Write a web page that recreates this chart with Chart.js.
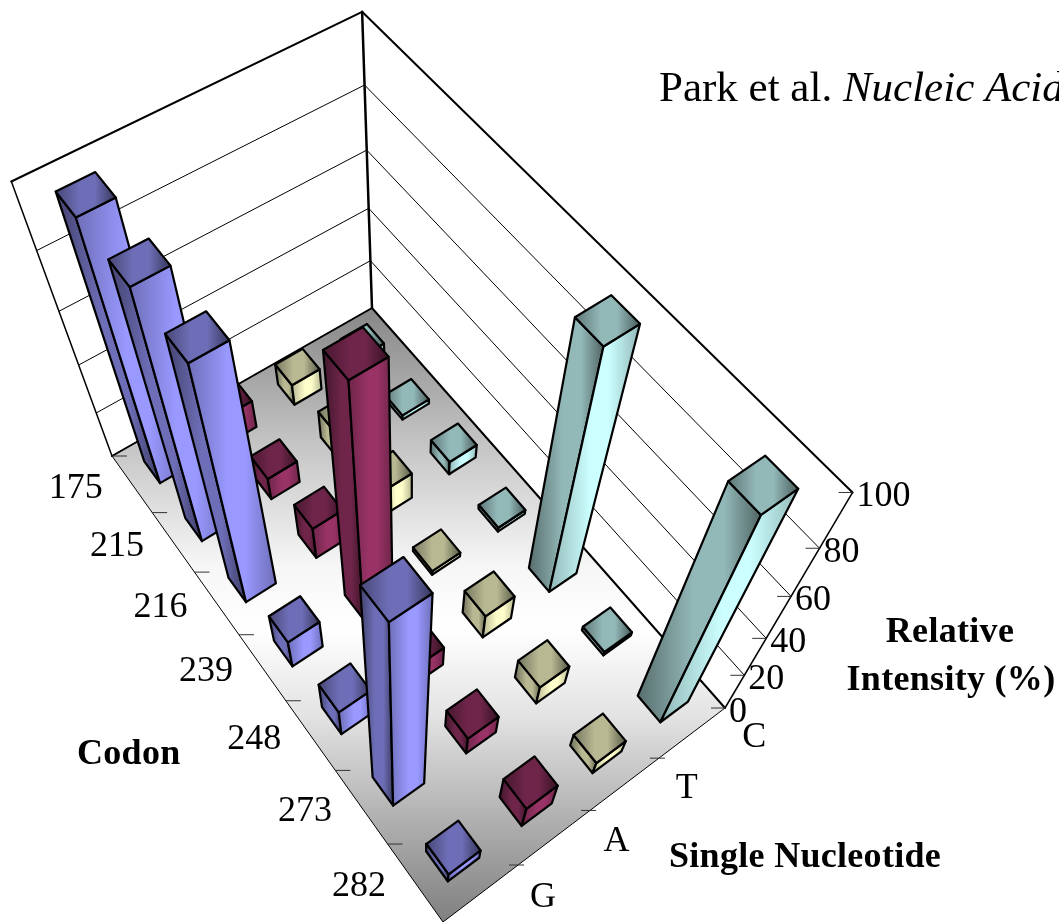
<!DOCTYPE html>
<html>
<head>
<meta charset="utf-8">
<style>html,body{margin:0;padding:0;background:#fff;overflow:hidden}canvas{display:block}</style>
<script src="https://cdn.jsdelivr.net/npm/chart.js@4/dist/chart.umd.min.js"></script>
</head>
<body>
<canvas id="chart" width="1059" height="922"></canvas>
<script>
const codons = ['175', '215', '216', '239', '248', '273', '282'];
const nucleotides = ['G', 'A', 'T', 'C'];
const intensityTicks = [0, 20, 40, 60, 80, 100];
const valuesG = [99, 99, 98.5, 14, 14, 98.5, 6];
const valuesA = [12, 10, 15, 100, 10, 10, 13];
const valuesT = [9, 12, 12, 2, 12, 10, 7];
const valuesC = [4, 2, 6, 2, 100, 2, 98.5];

const W = 1059, H = 922;
const ctx = document.getElementById('chart').getContext('2d');

// camera: where the box corners land on the page
const floorL = [112, 456], floorB = [372, 308], floorR = [725, 708], floorF = [443, 922];
const topL = [12, 183], topB = [362, 10], topR = [852, 493];

function makeCamera() {
  const [x0, y0] = floorL, [x1, y1] = floorF, [x2, y2] = floorR, [x3, y3] = floorB;
  const dx1 = x1 - x2, dx2 = x3 - x2, sx = x0 - x1 + x2 - x3;
  const dy1 = y1 - y2, dy2 = y3 - y2, sy = y0 - y1 + y2 - y3;
  const den = dx1 * dy2 - dx2 * dy1;
  const g = (sx * dy2 - dx2 * sy) / den, h = (dx1 * sy - sx * dy1) / den;
  const a = x1 - x0 + g * x1, b = x3 - x0 + h * x3;
  const d = y1 - y0 + g * y1, e = y3 - y0 + h * y3;
  const base = (u, v) => [a * u + b * v + x0, d * u + e * v + y0, g * u + h * v + 1];
  // vertical column from the three visible top corners, least squares
  const rows = [];
  [[topL, 0, 0], [topB, 0, 1], [topR, 1, 1]].forEach(([p, u, v]) => {
    const q = base(u, v);
    rows.push([1, 0, -p[0], p[0] * q[2] - q[0]]);
    rows.push([0, 1, -p[1], p[1] * q[2] - q[1]]);
  });
  const m = [0, 1, 2].map(i => [0, 1, 2, 3].map(j => rows.reduce((s, r) => s + r[i] * r[j], 0)));
  for (let i = 0; i < 3; i++) {
    for (let k = 0; k < 3; k++) {
      if (k === i) continue;
      const f = m[k][i] / m[i][i];
      for (let j = 0; j < 4; j++) m[k][j] -= f * m[i][j];
    }
  }
  const z = [0, 1, 2].map(i => m[i][3] / m[i][i]);
  return (u, v, w) => {
    const q = base(u, v), t = w / 100;
    const n = q[2] + z[2] * t;
    return { x: (q[0] + z[0] * t) / n, y: (q[1] + z[1] * t) / n };
  };
}
const project = makeCamera();

const datasets = [];
function poly(data, opts) {
  datasets.push(Object.assign({
    data, showLine: true, pointRadius: 0, pointHoverRadius: 0, tension: 0, clip: false,
    borderColor: '#000', borderWidth: 1, fill: false, borderJoinStyle: 'round', borderCapStyle: 'round'
  }, opts));
}
function closed(points) { return points.concat([points[0]]); }

function shade(rgb, k) { return `rgb(${rgb.map(c => Math.round(c * k)).join(',')})`; }

// each face shades left to right across its own width
function horizGradient(points, stops) {
  const xs = points.map(p => p.x);
  const grad = ctx.createLinearGradient(Math.min(...xs), 0, Math.max(...xs), 0);
  stops.forEach(([pos, col]) => grad.addColorStop(pos, col));
  return grad;
}

// walls and floor
const floorGrad = ctx.createLinearGradient(0, floorB[1], 0, floorF[1]);
[[0, '#868686'], [0.22, '#c4c4c4'], [0.42, '#f6f6f6'], [0.52, '#ffffff'], [0.66, '#e4e4e4'], [0.82, '#b4b4b4'], [1, '#808080']]
  .forEach(([p, c]) => floorGrad.addColorStop(p, c));
poly(closed([project(0, 0, 0), project(0, 1, 0), project(1, 1, 0), project(1, 0, 0)]),
  { fill: 'shape', backgroundColor: floorGrad, borderWidth: 1 });
intensityTicks.slice(1, -1).forEach(t => {
  poly([project(0, 0, t), project(0, 1, t), project(1, 1, t)], { borderWidth: 1 });
});
poly([project(0, 0, 0), project(0, 1, 0), project(1, 1, 0)], { borderWidth: 2 });
poly([project(0, 0, 0), project(0, 0, 100)], { borderWidth: 1.5 });
poly([project(0, 0, 100), project(0, 1, 100), project(1, 1, 100)], { borderWidth: 2 });
poly([project(0, 1, 0), project(0, 1, 100)], { borderWidth: 2.5 });
poly([project(1, 1, 0), project(1, 1, 100)], { borderWidth: 1.5 });

// tick marks
codons.forEach((c, i) => {
  const p = project(i / codons.length, 0, 0);
  poly([p, { x: p.x + 15, y: p.y }], { borderColor: '#333', borderCapStyle: 'butt' });
});
[1, 2, 3].forEach(j => {
  const p = project(1, j / nucleotides.length, 0);
  poly([{ x: p.x - 9, y: p.y }, { x: p.x + 6, y: p.y }], { borderColor: '#333', borderCapStyle: 'butt' });
});
intensityTicks.forEach(t => {
  const p = project(1, 1, t);
  poly([{ x: p.x - 14, y: p.y }, p], { borderColor: '#333', borderCapStyle: 'butt' });
});

// bars, back to front
const seriesColors = [[153, 153, 255], [153, 51, 102], [255, 255, 204], [204, 255, 255]];
const seriesValues = [valuesG, valuesA, valuesT, valuesC];
const barU = 0.39 / codons.length / 2, barV = 0.42 / nucleotides.length / 2;

function addBar(i, j, value) {
  const rgb = seriesColors[j];
  const u = (i + 0.5) / codons.length, v = (j + 0.5) / nucleotides.length;
  const u0 = u - barU, u1 = u + barU, v0 = v - barV, v1 = v + barV;
  const bl = project(u0, v0, 0), bf = project(u1, v0, 0), br = project(u1, v1, 0);
  const tl = project(u0, v0, value), tf = project(u1, v0, value), tr = project(u1, v1, value), tb = project(u0, v1, value);
  const topK = 0.72;
  const leftFace = [bl, bf, tf, tl], rightFace = [bf, br, tr, tf], topFace = [tl, tf, tr, tb];
  poly(closed(leftFace), {
    fill: 'shape', borderWidth: 2.2,
    backgroundColor: horizGradient(leftFace, [[0, shade(rgb, topK * 0.6)], [0.45, shade(rgb, topK)], [0.7, shade(rgb, topK)], [1, shade(rgb, topK * 0.55)]])
  });
  poly(closed(rightFace), {
    fill: 'shape', borderWidth: 2.2,
    backgroundColor: horizGradient(rightFace, [[0, shade(rgb, 0.72)], [0.45, shade(rgb, 1)], [0.65, shade(rgb, 1)], [1, shade(rgb, 0.72)]])
  });
  poly(closed(topFace), {
    fill: 'shape', borderWidth: 2.2,
    backgroundColor: horizGradient(topFace, [[0, shade(rgb, topK * 0.65)], [0.4, shade(rgb, topK)], [0.65, shade(rgb, topK)], [1, shade(rgb, topK * 0.5)]])
  });
}
codons.forEach((c, i) => {
  for (let j = nucleotides.length - 1; j >= 0; j--) addBar(i, j, seriesValues[j][i]);
});

// text is set on the canvas after the marks
const axisText = {
  id: 'axisText',
  afterDraw(chart) {
    const c = chart.ctx, sx = chart.scales.x, sy = chart.scales.y;
    const put = (text, p, dx, dy, align) => {
      c.textAlign = align;
      c.fillText(text, sx.getPixelForValue(p.x) + dx, sy.getPixelForValue(p.y) + dy);
    };
    c.save();
    c.fillStyle = '#000';
    c.textBaseline = 'alphabetic';
    c.font = '36px "Liberation Serif"';
    codons.forEach((label, i) => put(label, project((i + 0.5) / codons.length, 0, 0), -56, 14, 'center'));
    nucleotides.forEach((label, j) => put(label, project(1, (j + 0.5) / nucleotides.length, 0), 62, 14, 'center'));
    intensityTicks.forEach(t => put(String(t), project(1, 1, t), 4, 14, 'left'));
    c.font = 'bold 36px "Liberation Serif"';
    c.letterSpacing = '0.3px';
    c.textAlign = 'center';
    c.fillText('Relative', 950, 642);
    c.fillText('Intensity (%)', 951, 690);
    c.textAlign = 'left';
    c.fillText('Codon', 77, 764);
    c.fillText('Single Nucleotide', 669, 867);
    c.letterSpacing = '0px';
    c.font = '43px "Liberation Serif"';
    c.fillText('Park et al. ', 659, 101);
    const w = c.measureText('Park et al. ').width;
    c.font = 'italic 43px "Liberation Serif"';
    c.fillText('Nucleic Acid', 659 + w, 101);
    c.restore();
  }
};

new Chart(ctx, {
  type: 'scatter',
  data: { datasets: datasets.slice().reverse() },
  options: {
    responsive: false,
    animation: false,
    layout: { padding: 0 },
    plugins: { legend: { display: false }, tooltip: { enabled: false }, title: { display: false } },
    events: [],
    scales: {
      x: { type: 'linear', min: 0, max: W, display: false },
      y: { type: 'linear', min: 0, max: H, reverse: true, display: false }
    }
  },
  plugins: [axisText]
});
</script>
</body>
</html>
